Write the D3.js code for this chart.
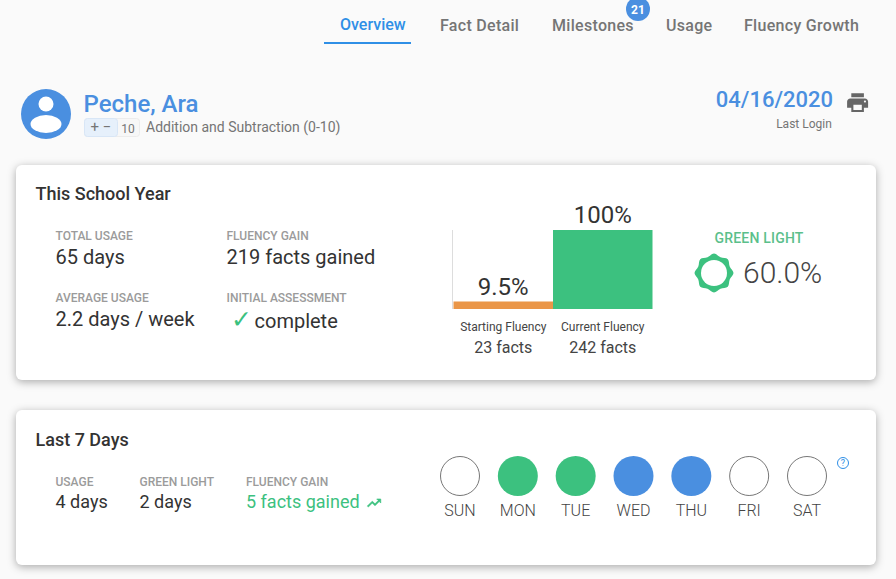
<!DOCTYPE html>
<html>
<head>
<meta charset="utf-8">
<script src="https://d3js.org/d3.v7.min.js"></script>
<style>
  html, body { margin: 0; padding: 0; background: #fafafa; overflow: hidden; }
  svg { display: block; font-family: Roboto, sans-serif; }
  .card { fill: #fff; filter: drop-shadow(0 2px 4px rgba(0,0,0,.32)); }
</style>
</head>
<body>
<div id="chart"></div>
<script>
const navLabels = ["Overview", "Fact Detail", "Milestones", "Usage", "Fluency Growth"];
const milestoneCount = 21;

const barLabels = ["Starting Fluency", "Current Fluency"];
const barPercents = [9.5, 100];
const barPercentText = ["9.5%", "100%"];
const barFacts = ["23 facts", "242 facts"];

const dayLabels = ["SUN", "MON", "TUE", "WED", "THU", "FRI", "SAT"];
const dayStatus = ["none", "green", "green", "usage", "usage", "none", "none"];

const BLUE = "#4a8fe0", TAB = "#2f8fe6", GREEN = "#3cc17f", ORANGE = "#ea9648";
const DARK = "#333", GREY = "#757575", LABEL = "#9b9b9b";

const svg = d3.select("#chart").append("svg").attr("width", 896).attr("height", 579);

function text(x, y, str, size, color, opts) {
  opts = opts || {};
  return svg.append("text")
    .attr("x", x).attr("y", y)
    .attr("font-size", size)
    .attr("fill", color)
    .attr("font-weight", opts.weight || 400)
    .attr("text-anchor", opts.anchor || "start")
    .text(str);
}

// nav tabs
const navX = [340, 440, 552, 666, 744];
navLabels.forEach((d, i) => {
  text(navX[i], i == 0 ? 30 : 31, d, 16, i == 0 ? TAB : GREY, { weight: 500 })
    .attr("letter-spacing", i == 0 ? 0 : 0.3);
});
svg.append("rect").attr("x", 324).attr("y", 42).attr("width", 87).attr("height", 2).attr("fill", TAB);
svg.append("circle").attr("cx", 638).attr("cy", 9).attr("r", 12).attr("fill", BLUE);
text(638, 14, milestoneCount, 12, "#fff", { weight: 700, anchor: "middle" });

// student header
svg.append("circle").attr("cx", 46).attr("cy", 114).attr("r", 25).attr("fill", BLUE);
svg.append("circle").attr("cx", 46).attr("cy", 104).attr("r", 7.5).attr("fill", "#fff");
svg.append("ellipse").attr("cx", 46).attr("cy", 124).attr("rx", 15.5).attr("ry", 9).attr("fill", "#fff");
text(83.5, 112, "Peche, Ara", 24, BLUE, { weight: 500 });

svg.append("rect").attr("x", 84.5).attr("y", 118.5).attr("width", 55).attr("height", 18).attr("rx", 3)
  .attr("fill", "#f7f7f7").attr("stroke", "#ececec");
svg.append("rect").attr("x", 84.5).attr("y", 118.5).attr("width", 33).attr("height", 18).attr("rx", 3)
  .attr("fill", "#e6f0fb").attr("stroke", "#d8e6f6");
text(101, 132, "+ −", 15, GREY, { anchor: "middle" });
text(128, 133, "10", 12, GREY, { anchor: "middle" });
text(146, 132, "Addition and Subtraction (0-10)", 14, GREY);

text(833, 107, "04/16/2020", 22, BLUE, { weight: 500, anchor: "end" });
text(804, 128, "Last Login", 12, GREY, { anchor: "middle" });
svg.append("path")
  .attr("d", "M19 8H5c-1.66 0-3 1.34-3 3v6h4v4h12v-4h4v-6c0-1.66-1.34-3-3-3zm-3 11H8v-5h8v5zm3-7c-.55 0-1-.45-1-1s.45-1 1-1 1 .45 1 1-.45 1-1 1zm-1-9H6v4h12V3z")
  .attr("transform", "translate(845,90) scale(1.05)")
  .attr("fill", "#666");

// cards
svg.append("rect").attr("class", "card").attr("x", 16).attr("y", 165).attr("width", 860).attr("height", 215).attr("rx", 6);
svg.append("rect").attr("class", "card").attr("x", 16).attr("y", 410).attr("width", 860).attr("height", 155).attr("rx", 6);

// this school year
text(35.5, 200, "This School Year", 18, DARK, { weight: 500 });
text(55.5, 240, "TOTAL USAGE", 12, LABEL, { weight: 500 });
text(55.5, 264, "65 days", 20, DARK);
text(55.5, 302, "AVERAGE USAGE", 12, LABEL, { weight: 500 });
text(55.5, 326, "2.2 days / week", 20, DARK);
text(226.5, 240, "FLUENCY GAIN", 12, LABEL, { weight: 500 });
text(226.5, 264, "219 facts gained", 20, DARK);
text(226.5, 302, "INITIAL ASSESSMENT", 12, LABEL, { weight: 500 });
text(231, 328, "✓", 25, GREEN, { weight: 700 }).style("font-family", "DejaVu Sans");
text(254.5, 328, "complete", 20, DARK);

// fluency bars
const x = d3.scaleBand().domain(barLabels).range([453.5, 652.5]);
const y = d3.scaleLinear().domain([0, 100]).range([309, 230]);

svg.append("line").attr("x1", 452.5).attr("x2", 452.5).attr("y1", 230).attr("y2", 309).attr("stroke", "#ddd");

svg.selectAll(".bar").data(barLabels).enter().append("rect")
  .attr("class", "bar")
  .attr("x", d => x(d))
  .attr("width", x.bandwidth())
  .attr("y", (d, i) => y(barPercents[i]))
  .attr("height", (d, i) => y(0) - y(barPercents[i]))
  .attr("fill", (d, i) => i == 0 ? ORANGE : GREEN);

barLabels.forEach((d, i) => {
  const cx = x(d) + x.bandwidth() / 2;
  text(cx, i == 0 ? 295 : 223, barPercentText[i], 24, DARK, { anchor: "middle" });
  text(cx, 331, d, 12, "#444", { anchor: "middle" });
  text(cx, 353, barFacts[i], 16, "#444", { anchor: "middle" });
});

// green light
text(759, 243, "GREEN LIGHT", 14, "#5bbf8b", { weight: 500, anchor: "middle" }).attr("letter-spacing", 0.2);
const badge = d3.lineRadial()
  .angle((d, i) => i * Math.PI / 8)
  .radius((d, i) => i % 2 == 0 ? 19.5 : 17)
  .curve(d3.curveCardinalClosed);
svg.append("path")
  .attr("d", badge(d3.range(16)))
  .attr("transform", "translate(714,273)")
  .attr("fill", GREEN);
svg.append("circle").attr("cx", 714).attr("cy", 273).attr("r", 13).attr("fill", "#fff");
text(743, 283, "60.0%", 30, "#444").attr("font-weight", 300);

// last 7 days
text(35.5, 446, "Last 7 Days", 18, DARK, { weight: 500 });
text(55.5, 486, "USAGE", 12, LABEL, { weight: 500 });
text(55.5, 508, "4 days", 18, DARK);
text(139.5, 486, "GREEN LIGHT", 12, LABEL, { weight: 500 });
text(139.5, 508, "2 days", 18, DARK);
text(246, 486, "FLUENCY GAIN", 12, LABEL, { weight: 500 });
text(246, 508, "5 facts gained", 18, GREEN);
svg.append("path")
  .attr("d", "M16 6l2.29 2.29-4.88 4.88-4-4L2 16.59 3.41 18l6-6 4 4 6.3-6.29L22 12V6z")
  .attr("transform", "translate(366,495) scale(.67)")
  .attr("fill", GREEN)
  .attr("stroke", GREEN)
  .attr("stroke-width", 1);

// day circles
const dayX = d3.scalePoint().domain(dayLabels).range([460, 807]);
const dayFill = d3.scaleOrdinal().domain(["none", "green", "usage"]).range(["#fff", GREEN, BLUE]);

svg.selectAll(".day").data(dayLabels).enter().append("circle")
  .attr("class", "day")
  .attr("cx", d => dayX(d))
  .attr("cy", 476)
  .attr("r", (d, i) => dayStatus[i] == "none" ? 19.5 : 20)
  .attr("fill", (d, i) => dayFill(dayStatus[i]))
  .attr("stroke", (d, i) => dayStatus[i] == "none" ? "#777" : "none");

dayLabels.forEach(d => {
  text(dayX(d), 516, d, 16, "#444", { anchor: "middle" }).attr("font-weight", 300);
});

// help icon
svg.append("circle").attr("cx", 843).attr("cy", 463).attr("r", 5.5).attr("fill", "none").attr("stroke", TAB);
text(843, 466, "?", 9, TAB, { anchor: "middle" });
</script>
</body>
</html>
